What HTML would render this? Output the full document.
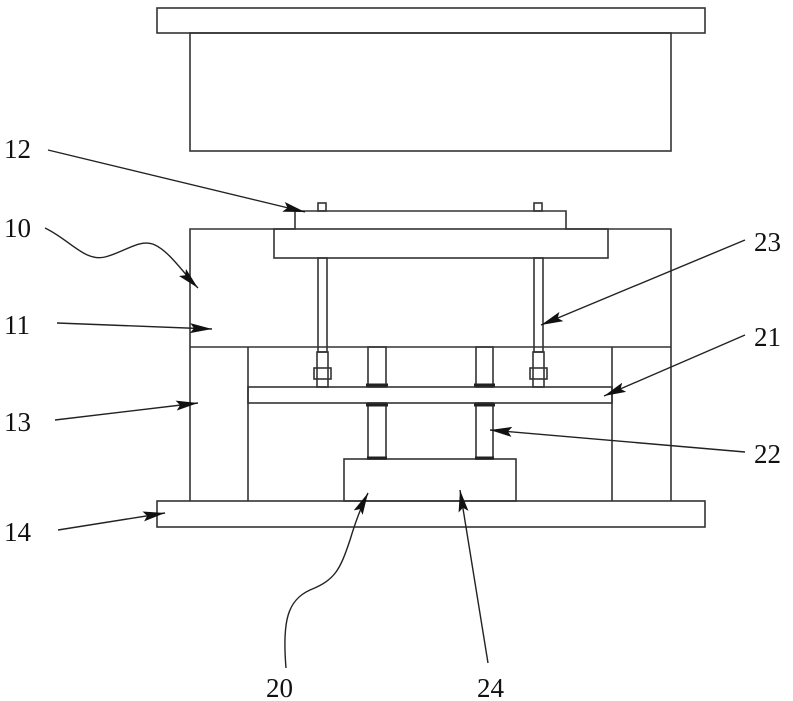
<!DOCTYPE html>
<html><head><meta charset="utf-8"><style>html,body{margin:0;padding:0;background:#fff}svg{display:block}</style></head>
<body>
<svg width="793" height="701" viewBox="0 0 793 701" xmlns="http://www.w3.org/2000/svg">
<defs>
<marker id="b" markerWidth="22" markerHeight="10" refX="22" refY="5" orient="auto" markerUnits="userSpaceOnUse"><path d="M0,0 L22,5 L0,10 L4,5Z" fill="#111"/></marker></defs>
<g fill="none" stroke="#333" stroke-width="1.6">
<rect x="157" y="8" width="548" height="25"/>
<rect x="190" y="33" width="481" height="118"/>
<path d="M190,501 V229 H295 V211 H566 V229 H671 V501"/>
<rect x="274" y="229" width="334" height="29"/>
<line x1="190" y1="347" x2="671" y2="347"/>
<line x1="248" y1="347" x2="248" y2="501"/>
<line x1="612" y1="347" x2="612" y2="501"/>
<rect x="248" y="387" width="364" height="16"/>
<rect x="157" y="501" width="548" height="26"/>
<rect x="344" y="459" width="172" height="42"/>
<rect x="318" y="203" width="8" height="8"/>
<rect x="534" y="203" width="8" height="8"/>
<rect x="318" y="258" width="9" height="94"/>
<rect x="534" y="258" width="9" height="94"/>
<rect x="317" y="352" width="11" height="35"/>
<rect x="533" y="352" width="11" height="35"/>
<rect x="314" y="368" width="17" height="11"/>
<rect x="530" y="368" width="17" height="11"/>
<rect x="368" y="347" width="18" height="40"/>
<rect x="476" y="347" width="17" height="40"/>
<rect x="368" y="403" width="18" height="56"/>
<rect x="476" y="403" width="17" height="56"/>
</g>
<g stroke="#222" stroke-width="3">
<line x1="366" y1="385" x2="388" y2="385"/><line x1="474" y1="385" x2="495" y2="385"/>
<line x1="366" y1="405" x2="388" y2="405"/><line x1="474" y1="405" x2="495" y2="405"/>
<line x1="367" y1="458" x2="387" y2="458"/><line x1="475" y1="458" x2="494" y2="458"/>
</g>
<g fill="none" stroke="#222" stroke-width="1.4">
<line x1="48" y1="150" x2="305" y2="212" marker-end="url(#b)"/>
<path d="M45,228 C70,240 85,262 105,257 C125,252 140,238 155,245 C170,252 185,275 198,288" marker-end="url(#b)"/>
<line x1="57" y1="323" x2="212" y2="329" marker-end="url(#b)"/>
<line x1="55" y1="420" x2="198" y2="403" marker-end="url(#b)"/>
<line x1="58" y1="530" x2="165" y2="513" marker-end="url(#b)"/>
<line x1="745" y1="240" x2="541" y2="325" marker-end="url(#b)"/>
<line x1="745" y1="335" x2="604" y2="396" marker-end="url(#b)"/>
<line x1="745" y1="452" x2="490" y2="430" marker-end="url(#b)"/>
<path d="M286,668 C282,620 288,600 310,590 C335,580 340,570 350,540 C356,520 362,505 368,493" marker-end="url(#b)"/>
<line x1="488" y1="663" x2="460" y2="490" marker-end="url(#b)"/>
</g>
<g font-family="Liberation Serif, serif" font-size="27" fill="#111">
<text x="4" y="158">12</text>
<text x="4" y="237">10</text>
<text x="4" y="334">11</text>
<text x="4" y="431">13</text>
<text x="4" y="541">14</text>
<text x="266" y="697">20</text>
<text x="477" y="697">24</text>
<text x="754" y="251">23</text>
<text x="754" y="346">21</text>
<text x="754" y="463">22</text>
</g>
</svg>
</body></html>
